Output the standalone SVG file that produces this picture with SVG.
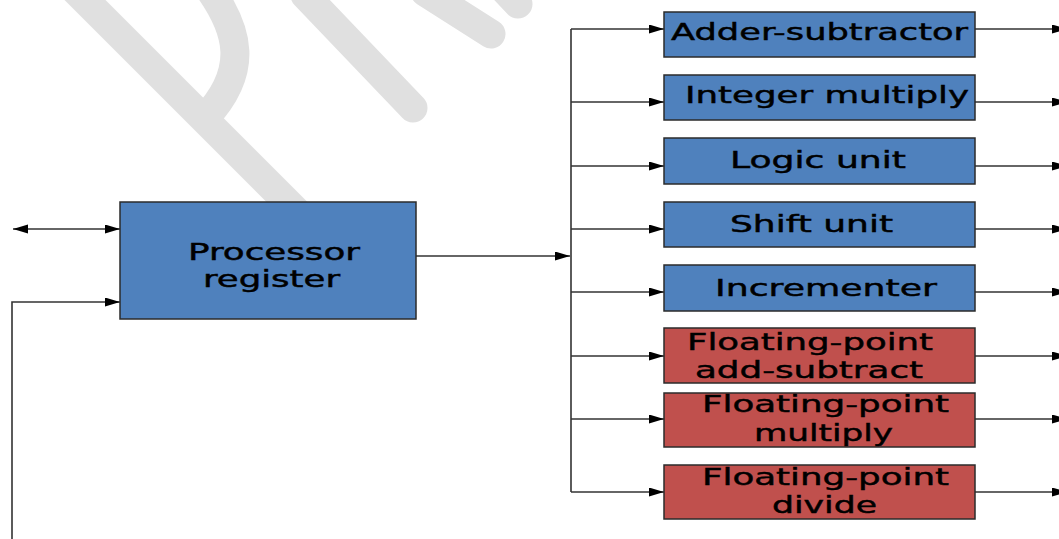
<svg xmlns="http://www.w3.org/2000/svg" width="1059" height="539" viewBox="0 0 1059 539">
<style>
.wm{fill:none;stroke:#e0e0e0;stroke-width:29;stroke-linecap:round;stroke-linejoin:round}
.blue{fill:#4f81bd;stroke:#2b2b2b;stroke-width:1.5}
.red{fill:#c0504d;stroke:#2b2b2b;stroke-width:1.5}
.t{font-family:"DejaVu Sans",Verdana,sans-serif;font-size:23.5px;fill:#000;stroke:#000;stroke-width:0.45}
.c{fill:none;stroke:#333;stroke-width:1.6}
</style>
<defs>
<marker id="ah" markerUnits="userSpaceOnUse" markerWidth="16" markerHeight="10" refX="15" refY="4.5" orient="auto-start-reverse">
<path d="M0,0 L15,4.5 L0,9 z" fill="#000"/>
</marker>
</defs>
<g id="watermark">
<path class="wm" d="M75,-10 L300,215"/>
<path class="wm" d="M210,-10 C238,30 250,70 205,118"/>
<path class="wm" d="M305,-5 L413,108"/>
<path class="wm" d="M425,-8 L491,34"/>
<path class="wm" d="M500,-15 L518,4"/>
</g>
<g id="connectors">
<line class="c" x1="13" y1="229" x2="120" y2="229" marker-start="url(#ah)" marker-end="url(#ah)"/>
<path class="c" d="M12,539 V302 H120" marker-end="url(#ah)"/>
<path class="c" d="M416,256 H570" marker-end="url(#ah)"/>
<path class="c" d="M571,29 V492"/>
<path class="c" d="M571,29 H664" marker-end="url(#ah)"/>
<path class="c" d="M571,102 H664" marker-end="url(#ah)"/>
<path class="c" d="M571,166 H664" marker-end="url(#ah)"/>
<path class="c" d="M571,229 H664" marker-end="url(#ah)"/>
<path class="c" d="M571,292 H664" marker-end="url(#ah)"/>
<path class="c" d="M571,356 H664" marker-end="url(#ah)"/>
<path class="c" d="M571,419 H664" marker-end="url(#ah)"/>
<path class="c" d="M571,492 H664" marker-end="url(#ah)"/>
<path class="c" d="M975,29 H1067" marker-end="url(#ah)"/>
<path class="c" d="M975,102 H1067" marker-end="url(#ah)"/>
<path class="c" d="M975,166 H1067" marker-end="url(#ah)"/>
<path class="c" d="M975,229 H1067" marker-end="url(#ah)"/>
<path class="c" d="M975,292 H1067" marker-end="url(#ah)"/>
<path class="c" d="M975,356 H1067" marker-end="url(#ah)"/>
<path class="c" d="M975,419 H1067" marker-end="url(#ah)"/>
<path class="c" d="M975,492 H1067" marker-end="url(#ah)"/>
</g>
<g id="processor-register">
<rect class="blue" x="120" y="202" width="296" height="117"/>
<text class="t" x="188" y="260" textLength="172" lengthAdjust="spacingAndGlyphs">Processor</text>
<text class="t" x="203" y="287" textLength="137" lengthAdjust="spacingAndGlyphs">register</text>
</g>
<g id="adder-subtractor">
<rect class="blue" x="664" y="12" width="311" height="45"/>
<text class="t" x="671" y="40" textLength="297" lengthAdjust="spacingAndGlyphs">Adder-subtractor</text>
</g>
<g id="integer-multiply">
<rect class="blue" x="664" y="75" width="311" height="45"/>
<text class="t" x="685" y="103" textLength="284" lengthAdjust="spacingAndGlyphs">Integer multiply</text>
</g>
<g id="logic-unit">
<rect class="blue" x="664" y="138" width="311" height="46"/>
<text class="t" x="730" y="168" textLength="176" lengthAdjust="spacingAndGlyphs">Logic unit</text>
</g>
<g id="shift-unit">
<rect class="blue" x="664" y="202" width="311" height="45"/>
<text class="t" x="730" y="232" textLength="163" lengthAdjust="spacingAndGlyphs">Shift unit</text>
</g>
<g id="incrementer">
<rect class="blue" x="664" y="265" width="311" height="46"/>
<text class="t" x="715" y="296" textLength="222" lengthAdjust="spacingAndGlyphs">Incrementer</text>
</g>
<g id="fp-add-subtract">
<rect class="red" x="664" y="328" width="311" height="55"/>
<text class="t" x="687" y="350" textLength="246" lengthAdjust="spacingAndGlyphs">Floating-point</text>
<text class="t" x="695" y="378" textLength="228" lengthAdjust="spacingAndGlyphs">add-subtract</text>
</g>
<g id="fp-multiply">
<rect class="red" x="664" y="393" width="311" height="54"/>
<text class="t" x="702" y="412" textLength="247" lengthAdjust="spacingAndGlyphs">Floating-point</text>
<text class="t" x="754" y="441" textLength="139" lengthAdjust="spacingAndGlyphs">multiply</text>
</g>
<g id="fp-divide">
<rect class="red" x="664" y="465" width="311" height="54"/>
<text class="t" x="702" y="485" textLength="247" lengthAdjust="spacingAndGlyphs">Floating-point</text>
<text class="t" x="772" y="513" textLength="105" lengthAdjust="spacingAndGlyphs">divide</text>
</g>
</svg>
